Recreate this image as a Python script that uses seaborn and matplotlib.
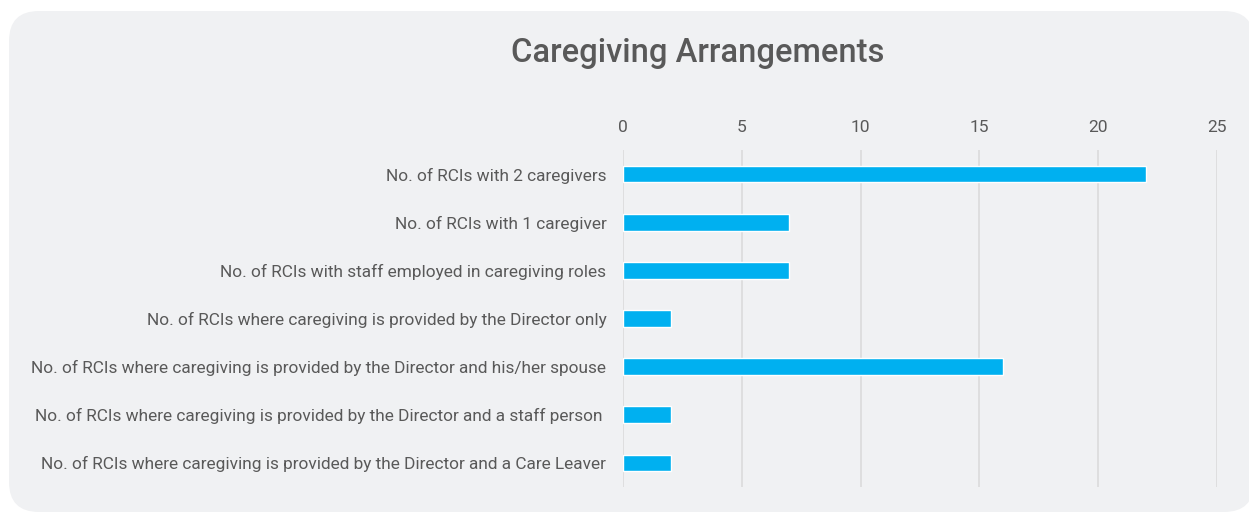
import matplotlib
matplotlib.use("Agg")
import matplotlib.pyplot as plt
from matplotlib.patches import FancyBboxPatch
import seaborn as sns
import pandas as pd

categories = [
    "No. of RCIs with 2 caregivers",
    "No. of RCIs with 1 caregiver",
    "No. of RCIs with staff employed in caregiving roles",
    "No. of RCIs where caregiving is provided by the Director only",
    "No. of RCIs where caregiving is provided by the Director and his/her spouse",
    "No. of RCIs where caregiving is provided by the Director and a staff person ",
    "No. of RCIs where caregiving is provided by the Director and a Care Leaver",
]
values = [22, 7, 7, 2, 16, 2, 2]
x_ticks = [0, 5, 10, 15, 20, 25]
title = "Caregiving Arrangements"

sns.set_theme(style="white")
plt.rcParams['font.family'] = ['Roboto', 'DejaVu Sans']

W, H = 1249, 514
fig = plt.figure(figsize=(W / 100, H / 100), dpi=100)
fig.patch.set_facecolor("white")

x0, y0, x1, y1 = 9, 11, 1254, 512
bg = FancyBboxPatch((x0 / W, 1 - y1 / H), (x1 - x0) / W, (y1 - y0) / H,
                    boxstyle="round,pad=0,rounding_size=%f" % (30 / W),
                    transform=fig.transFigure, facecolor="#f0f1f3",
                    edgecolor="none", mutation_aspect=W / H, zorder=-10)
fig.patches.append(bg)

ax = fig.add_axes([623 / W, 1 - 487 / H, (1217 - 623) / W, (487 - 150) / H])
ax.set_facecolor("none")
ax.set_zorder(5)

df = pd.DataFrame({"cat": categories, "val": values})
sns.barplot(data=df, x="val", y="cat", orient="h", color="#00B0F0",
            saturation=1, width=0.35, ax=ax, zorder=3)

ax.set_xlim(0, 25)
ax.set_ylim(6.5, -0.5)
ax.set_xticks(x_ticks)
ax.xaxis.tick_top()
ax.set_axisbelow(True)
ax.grid(axis="x", color="#d9d9d9", linewidth=1.1)
ax.grid(axis="y", visible=False)
for s in ax.spines.values():
    s.set_visible(False)
ax.tick_params(axis="both", length=0)
ax.tick_params(axis="x", pad=11, labelsize=12.5, labelcolor="#595959")
ax.tick_params(axis="y", pad=12, labelsize=12.4, labelcolor="#595959")
ax.set_xlabel("")
ax.set_ylabel("")

fig.text(698 / W, 1 - 53 / H, title, ha="center", va="center",
         fontsize=23.5, color="#595959", fontweight="medium",
         family=['Roboto', 'DejaVu Sans'])

fig.savefig("out.png", dpi=100, facecolor=fig.get_facecolor())
